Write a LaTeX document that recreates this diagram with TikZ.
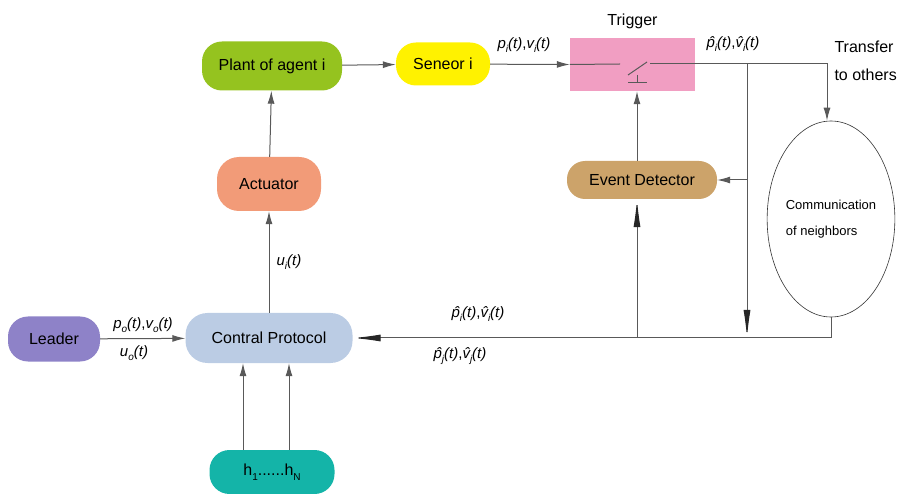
\documentclass[tikz,border=0pt]{standalone}
\usepackage{fontspec}
\setmainfont{Liberation Sans}
\usetikzlibrary{arrows.meta,shapes.geometric}

\definecolor{plantgreen}{HTML}{95C31F}
\definecolor{sensoryellow}{HTML}{FFF200}
\definecolor{triggerpink}{HTML}{F19EC2}
\definecolor{actsalmon}{HTML}{F29B78}
\definecolor{detecttan}{HTML}{CCA36A}
\definecolor{ctrlblue}{HTML}{BBCCE4}
\definecolor{leaderviolet}{HTML}{8E82C8}
\definecolor{hteal}{HTML}{14B4A8}
\definecolor{linegray}{HTML}{595959}

% low subscripts and signal labels
\newcommand{\sub}[1]{\raisebox{-0.55ex}{\fontsize{10}{10}\selectfont #1}}
\newcommand{\sig}[2]{\textit{#1\sub{#2}(t)}}
\newcommand{\hsig}[2]{\textit{\^{#1}\sub{#2}(t)}}

\tikzset{
  blk/.style={rounded corners=20pt, inner sep=0pt, align=center},
  ln/.style={draw=linegray, line width=1pt},
  arr/.style={ln, -{Latex[length=13pt,width=7pt]}},
  bigarr/.style={ln, -{Latex[length=28pt,width=7pt,color=black!85]}},
  lbl/.style={font=\fontsize{15}{17}\selectfont, inner sep=1pt}
}

\begin{document}
\begin{tikzpicture}[x=1pt, y=-1pt, font=\fontsize{16}{18}\selectfont]
  \useasboundingbox (0,0) rectangle (897,494);

  % blocks
  \node[blk, fill=plantgreen, minimum width=140pt, minimum height=49pt] (plant) at (272,66) {Plant of agent i};
  \node[blk, fill=sensoryellow, minimum width=94pt, minimum height=43pt] (sensor) at (443,64) {Seneor i};
  \node[fill=triggerpink, minimum width=125pt, minimum height=53pt, inner sep=0pt] (trig) at (632.5,64.5) {};
  \node[above=5pt] (trigname) at (trig.north) {Trigger};
  \node[blk, fill=actsalmon, minimum width=104pt, minimum height=54pt, rounded corners=22pt] (act) at (269,184) {Actuator};
  \node[blk, fill=detecttan, minimum width=150pt, minimum height=38pt, rounded corners=18pt] (ed) at (642,180) {Event Detector};
  \node[draw=black!80, line width=0.6pt, ellipse, minimum width=121pt, minimum height=196pt, inner sep=0pt,
        font=\fontsize{13}{26}\selectfont, align=left] (comm) at (831,219) {Communication\\of neighbors};
  \node[blk, fill=ctrlblue, minimum width=167pt, minimum height=50pt, rounded corners=22pt] (ctrl) at (269,338) {Contral Protocol};
  \node[blk, fill=leaderviolet, minimum width=92pt, minimum height=45pt] (leader) at (54,339) {Leader};
  \node[blk, fill=hteal, minimum width=125pt, minimum height=44pt] (hgain) at (272,472) {h\sub{1}......h\sub{N}};

  % switch inside the trigger
  \coordinate (swL) at (620,64);
  \coordinate (swR) at (650,64);
  \coordinate (tap) at (747,64);
  \draw[ln] (trig.west) -- (swL);
  \draw[ln] (628,75) -- (647,62);
  \draw[ln] (637,75) -- (637,83) (628,83) -- (647,83);

  % forward path
  \draw[arr] (plant) -- (sensor);
  \draw[arr] (sensor) -- (trig.west);
  \draw[arr] (swR) -| ([xshift=-4pt]comm.north);
  \draw[arr] (act) -- (plant);
  \draw[arr] (ctrl) -- (act);
  \draw[arr] (leader) -- (ctrl);
  \draw[arr] (hgain.north -| 243,0) -- (ctrl.south -| 243,0);
  \draw[arr] (hgain.north -| 289,0) -- (ctrl.south -| 289,0);

  % feedback
  \draw[arr] (tap |- ed.east) -- (ed.east);
  \draw[bigarr] (tap) -- (tap |- ctrl.east);
  \draw[bigarr] (comm.south) |- (ctrl.east);
  \draw[bigarr] ([xshift=-5pt]ed.south |- ctrl.east) -- ([xshift=-5pt]ed.south);
  \draw[arr] ([xshift=-5pt]ed.north) -- ([xshift=-5pt]ed.north |- trig.south);

  % signal labels
  \node[lbl] (ps) at (524,45) {\sig{p}{i},\sig{v}{i}};
  \node[lbl] (pt) at (733,44) {\hsig{p}{i},\hsig{v}{i}};
  \node[align=left, anchor=west, font=\fontsize{16}{28}\selectfont] (xfer) at (831,61) {Transfer\\to others};
  \node[lbl] (ui) at (289,262) {\sig{u}{i}};
  \node[lbl] (p0) at (143,325) {\sig{p}{o},\sig{v}{o}};
  \node[lbl] (u0) at (134,353) {\sig{u}{o}};
  \node[lbl] (pi) at (478,314) {\hsig{p}{i},\hsig{v}{i}};
  \node[lbl] (pj) at (460,356) {\hsig{p}{j},\hsig{v}{j}};
\end{tikzpicture}
\end{document}
